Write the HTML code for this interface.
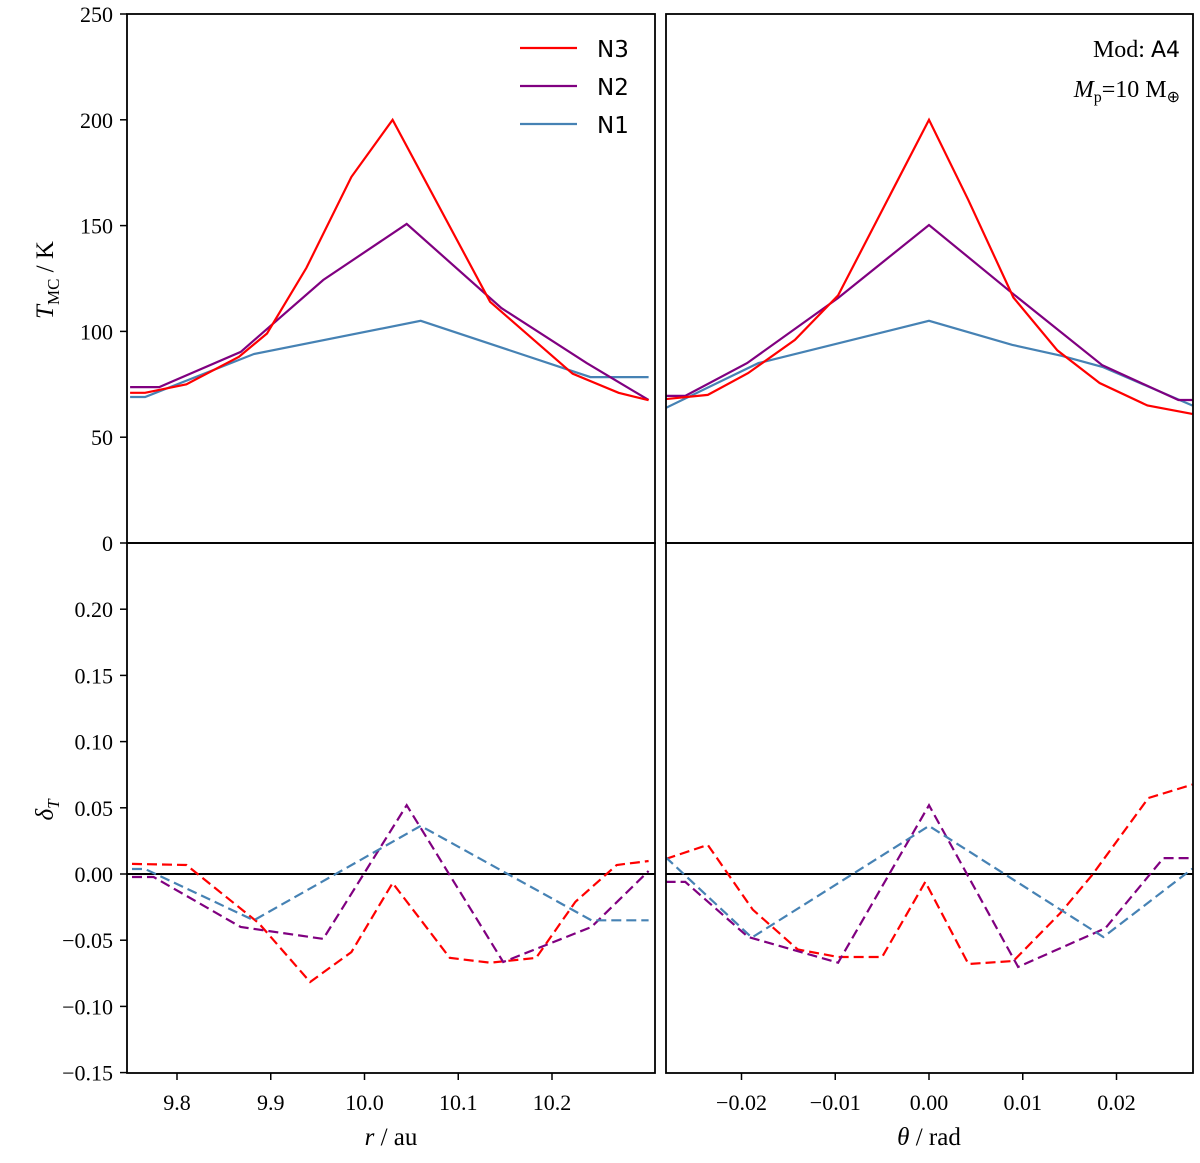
<!DOCTYPE html>
<html><head><meta charset="utf-8"><style>
body{margin:0;background:#fff}
svg text{font-family:"Liberation Serif",serif;fill:#000}
.sans{font-family:"DejaVu Sans","Liberation Sans",sans-serif}
</style></head><body>
<svg id="chart" width="1200" height="1158" viewBox="0 0 1200 1158" xmlns="http://www.w3.org/2000/svg"></svg>
<script>
// ---- data ----
const seriesNames = ["N3","N2","N1"];
const seriesColors = ["#ff0000","#800080","#4682b4"];
const rTickVals = [9.8,9.9,10.0,10.1,10.2];
const thTickVals = [-0.02,-0.01,0.0,0.01,0.02];
const thTickLabels = ["\u22120.02","\u22120.01","0.00","0.01","0.02"];
const TTickVals = [0,50,100,150,200,250];
const dTickVals = [-0.15,-0.10,-0.05,0.00,0.05,0.10,0.15,0.20];
const dTickLabels = ["\u22120.15","\u22120.10","\u22120.05","0.00","0.05","0.10","0.15","0.20"];

const rN3 = [9.75,9.766,9.810,9.866,9.896,9.938,9.986,10.030,10.134,10.222,10.271,10.303];
const TrN3 = [71,71,75,88,99,130,173,200,114,80,71,67.5];
const rN2 = [9.75,9.781,9.868,9.956,10.045,10.146,10.237,10.303];
const TrN2 = [73.7,73.7,90.3,124.3,150.8,111,85,67.6];
const rN1 = [9.75,9.766,9.882,10.060,10.241,10.303];
const TrN1 = [69,69,89.3,105,78.4,78.4];

const thN3 = [-0.0281,-0.0236,-0.0193,-0.0143,-0.0097,0,0.0042,0.009,0.0137,0.0182,0.0233,0.0281];
const TtN3 = [68,70,80.3,96,117,200,162,116,91,75.6,65,61];
const thN2 = [-0.0281,-0.026,-0.0194,-0.0097,0,0.0089,0.0185,0.0266,0.0281];
const TtN2 = [69.5,69.5,85,115.8,150.3,118,84,67.6,67.6];
const thN1 = [-0.0281,-0.0182,0,0.0089,0.0142,0.0185,0.0281];
const TtN1 = [63.8,85,105,93.6,88.4,83.2,65];

const drN3 = [9.752,9.810,9.887,9.942,9.986,10.030,10.091,10.134,10.183,10.225,10.269,10.303];
const dvrN3 = [0.0076,0.0068,-0.037,-0.0816,-0.059,-0.0068,-0.0634,-0.067,-0.0634,-0.021,0.0068,0.0098];
const drN2 = [9.752,9.775,9.868,9.956,10.045,10.148,10.242,10.303];
const dvrN2 = [-0.0023,-0.0023,-0.04,-0.049,0.052,-0.0665,-0.04,0.0023];
const drN1 = [9.752,9.766,9.882,10.060,10.242,10.303];
const dvrN1 = [0.0038,0.0038,-0.035,0.0363,-0.035,-0.035];

const dtN3 = [-0.0281,-0.0236,-0.0188,-0.014,-0.0097,-0.005,-0.0004,0.0042,0.009,0.014,0.0174,0.0234,0.0281];
const dvtN3 = [0.0113,0.022,-0.027,-0.057,-0.0627,-0.0627,-0.006,-0.068,-0.0657,-0.0295,-0.0008,0.0574,0.0675];
const dtN2 = [-0.0281,-0.026,-0.0193,-0.0097,0,0.0095,0.0188,0.025,0.0281];
const dvtN2 = [-0.006,-0.006,-0.0476,-0.067,0.052,-0.0702,-0.041,0.012,0.012];
const dtN1 = [-0.0281,-0.0189,0,0.0186,0.0281];
const dvtN1 = [0.0128,-0.048,0.0363,-0.0476,0.004];

// ---- layout ----
const L = {x0:127,x1:655}, R = {x0:666,x1:1193};
const TOP = {y0:14,y1:543}, BOT = {y0:543,y1:1073};
const xr = v => 177 + (v-9.8)*937.5;
const xt = v => 929 + v*9375;
const yT = v => 543 - v*2.116;
const yD = v => 874 - v*1324;

const svg = document.getElementById('chart');
const NS = "http://www.w3.org/2000/svg";
function mk(tag, attrs, parent){
  const e = document.createElementNS(NS, tag);
  for (const k in attrs) e.setAttribute(k, attrs[k]);
  (parent||svg).appendChild(e); return e;
}
function line(xs, ys, fx, fy, color, dashed, name, clip){
  const pts = xs.map((x,i)=>fx(x).toFixed(1)+","+fy(ys[i]).toFixed(1)).join(" ");
  const p = mk('polyline',{points:pts,fill:'none',stroke:color,'stroke-width':2.2,'stroke-linejoin':'miter','clip-path':'url(#'+clip+')'});
  if (dashed) p.setAttribute('stroke-dasharray','10,5');
  
  
}
const defs = mk('defs',{});
[['cTL',L,TOP],['cTR',R,TOP],['cBL',L,BOT],['cBR',R,BOT]].forEach(([id,X,Y])=>{
  const c = mk('clipPath',{id:id},defs);
  mk('rect',{x:X.x0,y:Y.y0,width:X.x1-X.x0,height:Y.y1-Y.y0},c);
});

[L,R].forEach((X,i)=>{
  const z = mk('line',{x1:X.x0,x2:X.x1,y1:yD(0),y2:yD(0),stroke:'#000','stroke-width':2});
  
  
});

line(rN1,TrN1,xr,yT,seriesColors[2],false,'top-left-n1','cTL');
line(rN2,TrN2,xr,yT,seriesColors[1],false,'top-left-n2','cTL');
line(rN3,TrN3,xr,yT,seriesColors[0],false,'top-left-n3','cTL');
line(thN1,TtN1,xt,yT,seriesColors[2],false,'top-right-n1','cTR');
line(thN2,TtN2,xt,yT,seriesColors[1],false,'top-right-n2','cTR');
line(thN3,TtN3,xt,yT,seriesColors[0],false,'top-right-n3','cTR');
line(drN3,dvrN3,xr,yD,seriesColors[0],true,'bottom-left-n3','cBL');
line(drN2,dvrN2,xr,yD,seriesColors[1],true,'bottom-left-n2','cBL');
line(drN1,dvrN1,xr,yD,seriesColors[2],true,'bottom-left-n1','cBL');
line(dtN3,dvtN3,xt,yD,seriesColors[0],true,'bottom-right-n3','cBR');
line(dtN2,dvtN2,xt,yD,seriesColors[1],true,'bottom-right-n2','cBR');
line(dtN1,dvtN1,xt,yD,seriesColors[2],true,'bottom-right-n1','cBR');

[[L,TOP,'top-left-axes'],[R,TOP,'top-right-axes'],[L,BOT,'bottom-left-axes'],[R,BOT,'bottom-right-axes']].forEach(([X,Y,n])=>{
  const r = mk('rect',{x:X.x0,y:Y.y0,width:X.x1-X.x0,height:Y.y1-Y.y0,fill:'none',stroke:'#000','stroke-width':1.8});
  
  
});

TTickVals.forEach(v=>{
  const y = yT(v);
  mk('line',{x1:L.x0-7,x2:L.x0,y1:y,y2:y,stroke:'#000','stroke-width':1.5});
  const t = mk('text',{x:L.x0-14,y:y+8,'text-anchor':'end','font-size':22});
  t.textContent = String(v);
  
  
});
dTickVals.forEach((v,i)=>{
  const y = yD(v);
  mk('line',{x1:L.x0-7,x2:L.x0,y1:y,y2:y,stroke:'#000','stroke-width':1.5});
  const t = mk('text',{x:L.x0-14,y:y+8,'text-anchor':'end','font-size':22});
  t.textContent = dTickLabels[i];
  
  
});
rTickVals.forEach(v=>{
  const x = xr(v);
  mk('line',{x1:x,x2:x,y1:BOT.y1,y2:BOT.y1+7,stroke:'#000','stroke-width':1.5});
  const t = mk('text',{x:x,y:1110,'text-anchor':'middle','font-size':22});
  t.textContent = v.toFixed(1);
  
  
});
thTickVals.forEach((v,i)=>{
  const x = xt(v);
  mk('line',{x1:x,x2:x,y1:BOT.y1,y2:BOT.y1+7,stroke:'#000','stroke-width':1.5});
  const t = mk('text',{x:x,y:1110,'text-anchor':'middle','font-size':22});
  t.textContent = thTickLabels[i];
  
  
});

seriesNames.forEach((n,i)=>{
  const y = 48 + i*38;
  const l = mk('line',{x1:520,x2:577,y1:y,y2:y,stroke:seriesColors[i],'stroke-width':2.2});
  
  
  const t = mk('text',{x:597,y:y+9,'font-size':23,'class':'sans'});
  t.textContent = n;
  
  
});
</script>
<svg style="position:absolute;left:0;top:0" width="1200" height="1158">
  <text transform="translate(53,280) rotate(-90)" text-anchor="middle" font-size="25"><tspan font-style="italic">T</tspan><tspan font-size="17" dy="6">MC</tspan><tspan dy="-6"> / K</tspan></text>
  <text transform="translate(53,810) rotate(-90)" text-anchor="middle" font-size="25"><tspan font-style="italic">δ</tspan><tspan font-size="17" font-style="italic" dy="6">T</tspan></text>
  <text x="391" y="1145" text-anchor="middle" font-size="25"><tspan font-style="italic">r</tspan> / au</text>
  <text x="929" y="1145" text-anchor="middle" font-size="25"><tspan font-style="italic">θ</tspan> / rad</text>
  <text x="1180" y="57" text-anchor="end" font-size="24">Mod: <tspan font-family="DejaVu Sans, sans-serif" font-size="22">A4</tspan></text>
  <text x="1180" y="97" text-anchor="end" font-size="24"><tspan font-style="italic">M</tspan><tspan font-size="16" dy="5">p</tspan><tspan dy="-5">=10 M</tspan><tspan font-size="16" dy="5">⊕</tspan></text>
</svg>
</body></html>
